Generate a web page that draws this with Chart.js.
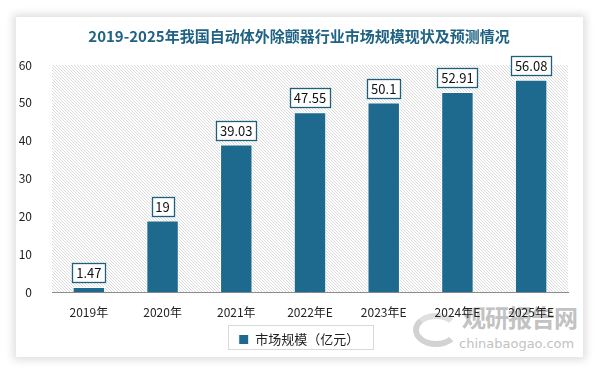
<!DOCTYPE html>
<html>
<head>
<meta charset="utf-8">
<script src="https://cdn.jsdelivr.net/npm/chart.js@4"></script>
<style>
  html, body { margin: 0; padding: 0; background: #fff; }
  #card {
    position: absolute; left: 16px; top: 17px; width: 567px; height: 340px;
    background: #fff; box-shadow: 0 0 8px 3px rgba(0,0,0,0.13);
  }
  #wrap { position: absolute; left: 0; top: 0; width: 598px; height: 370px; }
  #mark {
    position: absolute; left: 410px; top: 306px; width: 175px; height: 50px;
    font-family: "Noto Sans CJK SC", sans-serif; color: #c2c2c2; pointer-events: none; white-space: nowrap;
  }
  #mark .big { position: absolute; left: 52px; top: -6px; font-size: 24px; font-weight: bold; line-height: 34px; letter-spacing: -1px; }
  #mark .small { position: absolute; left: 49px; top: 29px; font-size: 13px; line-height: 18px; font-family: "DejaVu Sans", sans-serif; }
  #mark .logo { position: absolute; left: 3px; top: 7px; width: 34px; height: 22px; border-radius: 50%; border: 6px solid #d2d2d2; border-right-color: transparent; border-top-color: #e0e0e0; }
</style>
</head>
<body>
<div id="card"></div>
<div id="mark"><div class="logo"></div><div class="big">观研报告网</div><div class="small">chinabaogao.com</div></div>
<div id="wrap"><canvas id="chart" width="598" height="370"></canvas></div>
<script>
// data
var years = ['2019年', '2020年', '2021年', '2022年E', '2023年E', '2024年E', '2025年E'];
var values = [1.47, 19, 39.03, 47.55, 50.1, 52.91, 56.08];
var labels = ['1.47', '19', '39.03', '47.55', '50.1', '52.91', '56.08'];
var seriesName = '市场规模（亿元）';

var barColor = '#1d6a8e';
var font = '"Noto Sans CJK SC", "DejaVu Sans", sans-serif';

// hatch pattern for the plot area
var pc = document.createElement('canvas');
pc.width = 3; pc.height = 3;
var px = pc.getContext('2d');
px.fillStyle = '#fff';
px.fillRect(0, 0, 3, 3);
px.fillStyle = '#dadada';
px.fillRect(0, 0, 1, 1);
px.fillRect(1, 1, 1, 1);
px.fillRect(2, 2, 1, 1);

const hatch = {
    id: 'hatch',
    beforeDraw(chart) {
        const a = chart.chartArea, ctx = chart.ctx;
        ctx.save();
        ctx.fillStyle = ctx.createPattern(pc, 'repeat');
        ctx.fillRect(a.left, a.top, a.right - a.left, a.bottom - a.top);
        ctx.restore();
    }
};

const boxLabels = {
    id: 'boxLabels',
    afterDatasetsDraw(chart) {
        const ctx = chart.ctx;
        const meta = chart.getDatasetMeta(0);
        ctx.save();
        ctx.font = '13px ' + font;
        ctx.textAlign = 'center';
        ctx.textBaseline = 'middle';
        meta.data.forEach(function (bar, i) {
            const t = labels[i];
            const w = Math.round(ctx.measureText(t).width + 8);
            const h = 19;
            const x = Math.round(bar.x - w / 2);
            const y = Math.round(bar.y - 5 - h);
            ctx.fillStyle = '#fff';
            ctx.fillRect(x, y, w, h);
            ctx.strokeStyle = '#1d5f7e';
            ctx.lineWidth = 1.3;
            ctx.strokeRect(x + 0.5, y + 0.5, w, h);
            ctx.fillStyle = '#111';
            ctx.fillText(t, bar.x, y + h / 2 + 1);
        });
        ctx.restore();
    }
};

const legendBox = {
    id: 'legendBox',
    afterDraw(chart) {
        const ctx = chart.ctx;
        ctx.save();
        ctx.strokeStyle = '#d9d9d9';
        ctx.lineWidth = 1;
        ctx.strokeRect(228.5, 325.5, 145, 24);
        ctx.restore();
    }
};

new Chart(document.getElementById('chart'), {
    type: 'bar',
    data: {
        labels: years,
        datasets: [{
            label: seriesName,
            data: values,
            backgroundColor: barColor,
            borderColor: '#fff',
            borderWidth: 1,
            categoryPercentage: 1,
            barPercentage: 0.44
        }]
    },
    options: {
        responsive: false,
        animation: false,
        layout: { padding: { left: 8, right: 8, top: 0, bottom: 14 } },
        plugins: {
            title: {
                display: true,
                text: '2019-2025年我国自动体外除颤器行业市场规模现状及预测情况',
                color: '#1f6283',
                font: { family: font, size: 15, weight: 'bold' },
                padding: { top: 27, bottom: 20 }
            },
            legend: {
                position: 'bottom',
                labels: {
                    color: '#222',
                    font: { family: font, size: 13 },
                    boxWidth: 10, boxHeight: 10,
                    padding: 8
                }
            },
            tooltip: { enabled: false }
        },
        scales: {
            x: {
                grid: { display: false },
                border: { color: '#8c8c8c', width: 1 },
                ticks: { color: '#222', font: { family: font, size: 12 }, maxRotation: 0, padding: 5 }
            },
            y: {
                min: 0, max: 60,
                grid: { display: false },
                border: { display: false },
                afterFit: function (s) { s.width = 44; },
                ticks: { stepSize: 10, color: '#222', font: { family: font, size: 12 }, padding: 12 }
            },
            // empty right-hand spacer so the plot ends where the reference's does
            yr: {
                position: 'right',
                min: 0, max: 60,
                grid: { display: false },
                border: { display: false },
                ticks: { display: false },
                afterFit: function (s) { s.width = 22; }
            }
        }
    },
    plugins: [hatch, boxLabels, legendBox]
});
</script>
</body>
</html>
